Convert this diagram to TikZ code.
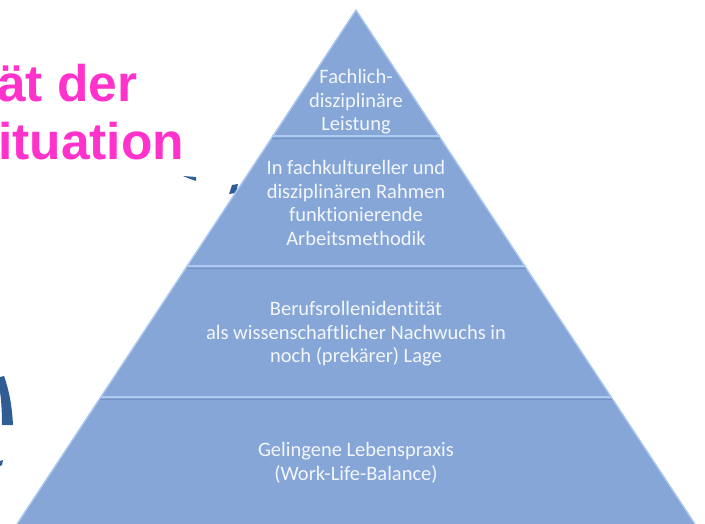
\documentclass[tikz,border=0pt]{standalone}
\usepackage{fontspec}
\setmainfont{Carlito}[Ligatures={NoCommon}]
\newfontfamily\headfont{Liberation Sans}
\definecolor{pyr}{HTML}{85A6D7}
\definecolor{pyrlight}{HTML}{AECAF0}
\definecolor{pyrdark}{HTML}{7091C2}
\definecolor{mag}{HTML}{FF33CC}
\definecolor{arcblue}{HTML}{305E94}
\definecolor{ptext}{HTML}{F3F6FB}
\begin{document}
\begin{tikzpicture}[x=1pt,y=-1pt,
  layer/.style={fill=pyr,draw=none},
  sideedge/.style={draw=pyrlight,line width=1.4pt},
  topedge/.style={draw=pyrlight,line width=1.6pt},
  botedge/.style={draw=pyrdark,line width=1.2pt},
  ptxt/.style={text=ptext,align=center,inner sep=0pt,font=\fontsize{20.5}{23.5}\selectfont},
  headtxt/.style={text=mag,anchor=base west,inner sep=0pt,font=\headfont\bfseries\fontsize{51.5}{56}\selectfont},
  frag/.style={fill=arcblue,draw=none}]
\useasboundingbox (0,0) rectangle (705,524);
% background fragments of a dark blue arrow
\fill[frag] (0,377) -- (4,376) .. controls (9,390) and (12,405) .. (13,425) -- (2,425) .. controls (2,410) and (1,398) .. (0,392) -- cycle;
\fill[frag] (0,461) -- (3,460) -- (2,465) -- (0,466) -- cycle;
\fill[frag] (183,176) -- (196,177) -- (196,181) -- (189,178.5) -- cycle;
\fill[frag] (229,194) -- (232,185) -- (238,184) -- (236,193) -- cycle;
% heading fragments
\node[headtxt] (h1) at (-3,102) {ät der};
\node[headtxt] (h2) at (-2,160) {ituation};
% pyramid layers
\coordinate (apex) at (356,10);
\coordinate (l1) at (272.2,137); \coordinate (r1) at (439.8,137);
\coordinate (l2) at (186.5,267); \coordinate (r2) at (525.5,267);
\coordinate (l3) at (100.1,398); \coordinate (r3) at (611.9,398);
\coordinate (l4) at (17,524);    \coordinate (r4) at (695,524);
\path[layer] (apex) -- (r1) -- (l1) -- cycle;
\path[layer] (l1) -- (r1) -- (r2) -- (l2) -- cycle;
\path[layer] (l2) -- (r2) -- (r3) -- (l3) -- cycle;
\path[layer] (l3) -- (r3) -- (r4) -- (l4) -- cycle;
% bevel lines
\draw[sideedge] (l4) -- (apex) -- (r4);
\draw[botedge] ([yshift=-1.8]l1) -- ([yshift=-1.8]r1);
\draw[botedge] ([yshift=-1.8]l2) -- ([yshift=-1.8]r2);
\draw[botedge] ([yshift=-1.8]l3) -- ([yshift=-1.8]r3);
\draw[topedge] ([yshift=0.8]l1) -- ([yshift=0.8]r1);
\draw[topedge] ([yshift=0.8]l2) -- ([yshift=0.8]r2);
\draw[topedge] ([yshift=0.8]l3) -- ([yshift=0.8]r3);
% texts
\node[ptxt] (t1) at (356,102) {Fachlich-\\disziplinäre\\Leistung};
\node[ptxt] (t2) at (356,203) {In fachkultureller und\\disziplinären Rahmen\\funktionierende\\Arbeitsmethodik};
\node[ptxt] (t3) at (356,334) {Berufsrollenidentität\\als wissenschaftlicher Nachwuchs in\\noch (prekärer) Lage};
\node[ptxt] (t4) at (356,463) {Gelingene Lebenspraxis\\(Work-Life-Balance)};
\end{tikzpicture}
\end{document}
